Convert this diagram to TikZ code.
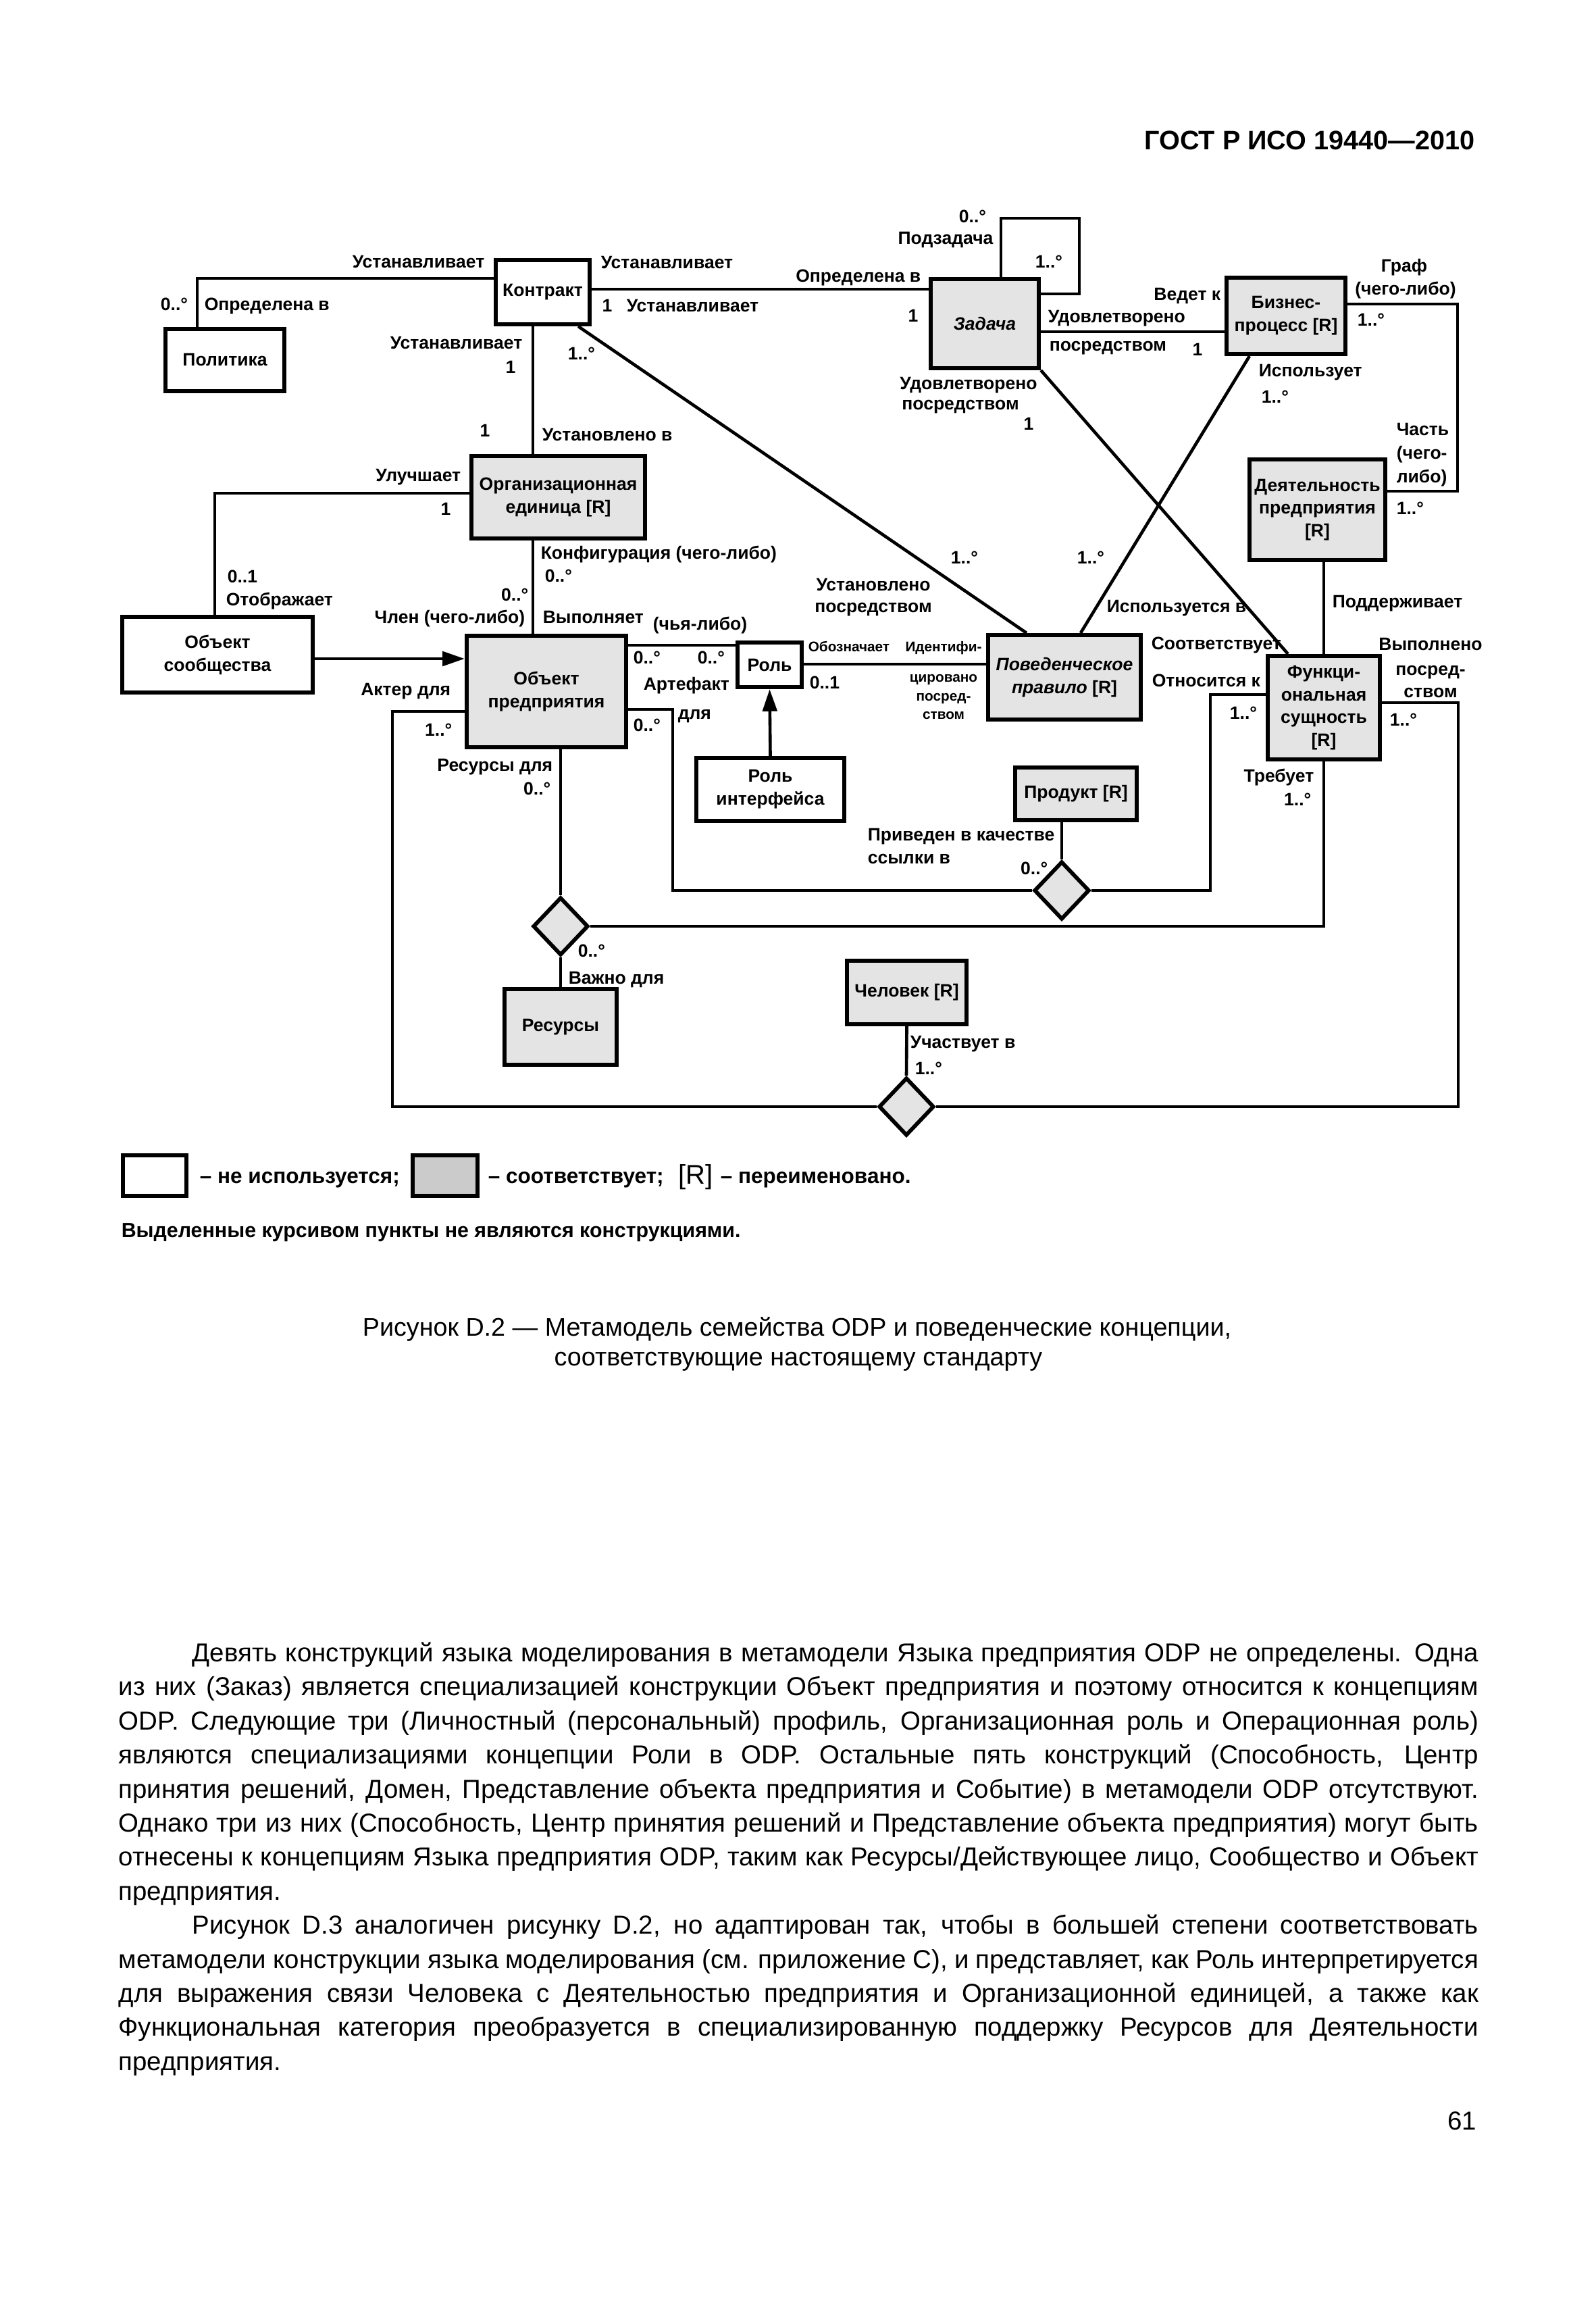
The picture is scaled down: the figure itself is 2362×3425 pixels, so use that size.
\documentclass[tikz,border=0pt]{standalone}
\usepackage{fontspec}
\setmainfont{Liberation Sans}
\usetikzlibrary{shapes.geometric,arrows.meta,calc}
\definecolor{boxgray}{HTML}{E4E4E4}
\definecolor{leggray}{HTML}{CBCBCB}
\newcommand\dlab{\fontsize{6.9}{8.8}\selectfont\bfseries}
\newcommand\dsmall{\fontsize{5.4}{7}\selectfont\bfseries}
\newcommand\legf{\fontsize{8.2}{10}\selectfont\bfseries}
\newcommand\legnote{\fontsize{7.9}{10}\selectfont\bfseries}
\newcommand\bodyf{\fontsize{10}{13}\selectfont}
\newcommand\capf{\fontsize{9.8}{12}\selectfont}
\newcommand\hdrf{\fontsize{10.3}{12}\selectfont\bfseries}
\begin{document}
\begin{tikzpicture}[x=0.0091448cm,y=-0.0091448cm,
  lbl/.style={font=\dlab,inner sep=0pt,text height=4.9pt,text depth=0pt},
  slbl/.style={font=\dsmall,inner sep=0pt,text height=3.8pt,text depth=0pt},
  leg/.style={font=\legf,inner sep=0pt,text height=5.9pt,text depth=0pt,anchor=west},
  box/.style={draw,line width=1.6pt,inner sep=0pt,align=center,font=\dlab},
  wbox/.style={box,fill=white},
  gbox/.style={box,fill=boxgray},
  sz/.style 2 args={minimum width=#1*0.0091448cm,minimum height=#2*0.0091448cm},
  dia/.style={diamond,draw,line width=1.5pt,fill=boxgray,inner sep=0pt,minimum width=82*0.0091448cm,minimum height=86*0.0091448cm},
  conn/.style={line width=1.2pt},
  arr/.style={conn,-{Triangle[length=8.5pt,width=5.5pt]}},
  body/.style={font=\bodyf,inner sep=0pt,anchor=base west},
]
\fill[white] (0,0) rectangle (2362,3425);
\useasboundingbox (0,0) rectangle (2362,3425);

% header
\node[anchor=base east,font=\hdrf,inner sep=0pt] (hdr) at (2184,222) {ГОСТ Р ИСО 19440—2010};

% boxes
\node[wbox,sz={176}{92}] (pol) at (333,533) {Политика};
\node[wbox,sz={139}{95}] (kon) at (803.5,432.5) {Контракт};
\node[gbox,sz={160}{132}] (zad) at (1458,479) {\textit{Задача}};
\node[gbox,sz={176}{113}] (bp) at (1904,467.5) {Бизнес-\\процесс [R]};
\node[gbox,sz={257}{122}] (org) at (826.5,736) {Организационная\\единица [R]};
\node[wbox,sz={282}{112}] (obs) at (322,969) {Объект\\сообщества};
\node[gbox,sz={236}{165}] (oe) at (809,1023.5) {Объект\\предприятия};
\node[wbox,sz={95}{66}] (rol) at (1139.5,984) {Роль};
\node[wbox,sz={219}{93}] (ri) at (1140.5,1168.5) {Роль\\интерфейса};
\node[gbox,sz={226}{125}] (pp) at (1576,1002.5) {\textit{Поведенческое}\\\textit{правило} [R]};
\node[gbox,sz={201}{149}] (da) at (1950.5,754.5) {Деятельность\\предприятия\\{[R]}};
\node[gbox,sz={166}{153}] (fs) at (1960,1047.5) {Функци-\\ональная\\сущность\\{[R]}};
\node[gbox,sz={180}{78}] (prod) at (1593,1175) {Продукт [R]};
\node[gbox,sz={166}{112}] (res) at (830,1520) {Ресурсы};
\node[gbox,sz={177}{94}] (hum) at (1342.5,1469) {Человек [R]};

% diamonds
\node[dia] (dP) at (1572,1318) {};
\node[dia] (dR) at (830,1371) {};
\node[dia] (dH) at (1342,1638) {};

% connectors
\coordinate (cP) at (292,412);
\draw[conn] (pol.north -| cP) |- (kon.west |- cP);
\coordinate (cKZ) at (0,428);
\draw[conn] (kon.east |- cKZ) -- (zad.west |- cKZ);
\coordinate (cKO) at (789,0);
\draw[conn] (kon.south -| cKO) -- (org.north -| cKO);
\draw[conn] (org.south -| cKO) -- (oe.north -| cKO);
\coordinate (cOS) at (318,730);
\draw[conn] (org.west |- cOS) -| (obs.north -| cOS);
\coordinate (cA) at (0,975);
\draw[arr] (obs.east |- cA) -- (oe.west |- cA);
\coordinate (cR) at (0,955);
\draw[conn] (oe.east |- cR) -- (rol.west |- cR);
\coordinate (cRP) at (0,983);
\draw[conn] (rol.east |- cRP) -- (pp.west |- cRP);
\draw[arr] (ri.north) -- (rol.south);
\coordinate (a1) at (996,1050);
\draw[conn] (oe.east |- a1) -- (a1) |- (dP.west);
\draw[conn] (prod.south -| dP.north) -- (dP.north);
\coordinate (b1) at (1792,1028);
\draw[conn] (fs.west |- b1) -- (b1) |- (dP.east);
\draw[conn] (fs.south) |- (dR.east);
\draw[conn] (oe.south -| dR.north) -- (dR.north);
\draw[conn] (dR.south) -- (res.north);
\draw[conn] (hum.south) -- (dH.north);
\coordinate (e1) at (581,1053);
\draw[conn] (oe.west |- e1) -- (e1) |- (dH.west);
\coordinate (f1) at (2159,1040);
\draw[conn] (fs.east |- f1) -- (f1) |- (dH.east);
\coordinate (g1) at (1482,323);
\coordinate (g2) at (1598,435);
\draw[conn] (zad.north -| g1) -- (g1) -| (g2) -- (zad.east |- g2);
\coordinate (h1) at (0,491);
\draw[conn] (zad.east |- h1) -- (bp.west |- h1);
\draw[conn] (zad.south east) -- ($(fs.north west)+(33,0)$);
\draw[conn] ($(bp.south west)+(37,0)$) -- ($(pp.north west)+(140,0)$);
\draw[conn] ($(kon.south east)+(-20,0)$) -- ($(pp.north west)+(60,0)$);
\coordinate (k1) at (2158,450);
\coordinate (k2) at (2158,727);
\draw[conn] (bp.east |- k1) -- (k1) -- (k2) -- (da.east |- k2);
\draw[conn] (da.south -| fs.north) -- (fs.north);

% labels: top-left
\node[lbl,anchor=east] (L1) at (718,387) {Устанавливает};
\node[lbl] (L2) at (258,450) {0..°};
\node[lbl,anchor=west] (L3) at (302,450) {Определена в};
\node[lbl,anchor=east] (L4) at (774,507) {Устанавливает};
\node[lbl] (L5) at (756,543) {1};
\node[lbl] (L6) at (861,523) {1..°};
\node[lbl] (L7) at (718,637) {1};
\node[lbl,anchor=west] (L8) at (802,643) {Установлено в};
\node[lbl,anchor=west] (L9) at (889,388) {Устанавливает};
\node[lbl] (L10) at (899,452) {1};
\node[lbl,anchor=west] (L11) at (927,452) {Устанавливает};
% zadacha
\node[lbl,anchor=east] (L12) at (1364,408) {Определена в};
\node[lbl] (L13) at (1352,467) {1};
\node[lbl] (L14) at (1440,320) {0..°};
\node[lbl] (L15) at (1400,352) {Подзадача};
\node[lbl] (L16) at (1553,387) {1..°};
\node[lbl,anchor=west] (L17) at (1551,468) {Удовлетворено};
\node[lbl,anchor=west] (L18) at (1553,510) {посредством};
\node[lbl] (L19) at (1773,517) {1};
\node[lbl,anchor=east] (L20) at (1808,435) {Ведет к};
\node[lbl] (L21) at (1434,567) {Удовлетворено};
\node[lbl] (L22) at (1422,597) {посредством};
\node[lbl] (L23) at (1523,627) {1};
% business process
\node[lbl] (L24) at (2079,393) {Граф};
\node[lbl] (L25) at (2081,427) {(чего-либо)};
\node[lbl] (L26) at (2030,473) {1..°};
\node[lbl,anchor=west] (L27) at (1863,548) {Использует};
\node[lbl,anchor=west] (L28) at (1867,587) {1..°};
\node[lbl,anchor=west] (L29) at (2067,635) {Часть};
\node[lbl,anchor=west] (L30) at (2067,670) {(чего-};
\node[lbl,anchor=west] (L31) at (2067,705) {либо)};
\node[lbl,anchor=west] (L32) at (2067,752) {1..°};
% org unit
\node[lbl,anchor=east] (L33) at (683,703) {Улучшает};
\node[lbl] (L34) at (660,753) {1};
\node[lbl,anchor=west] (L35) at (336,853) {0..1};
\node[lbl,anchor=west] (L36) at (334,887) {Отображает};
\node[lbl,anchor=west] (L37) at (800,818) {Конфигурация (чего-либо)};
\node[lbl,anchor=west] (L38) at (806,852) {0..°};
\node[lbl,anchor=east] (L39) at (783,880) {0..°};
\node[lbl,anchor=east] (L40) at (778,913) {Член (чего-либо)};
\node[lbl,anchor=west] (L41) at (803,913) {Выполняет};
\node[lbl,anchor=east] (L42) at (668,1020) {Актер для};
\node[lbl,anchor=east] (L43) at (670,1080) {1..°};
% role
\node[lbl,anchor=west] (L44) at (966,923) {(чья-либо)};
\node[lbl,anchor=west] (L45) at (937,973) {0..°};
\node[lbl,anchor=west] (L46) at (1032,973) {0..°};
\node[lbl,anchor=west] (L47) at (952,1012) {Артефакт};
\node[lbl,anchor=west] (L48) at (1003,1055) {для};
\node[lbl,anchor=west] (L49) at (937,1073) {0..°};
\node[slbl,anchor=west] (L50) at (1196,957) {Обозначает};
\node[slbl] (L51) at (1397,957) {Идентифи-};
\node[slbl] (L52) at (1397,1002) {цировано};
\node[slbl] (L53) at (1397,1030) {посред-};
\node[slbl] (L54) at (1397,1057) {ством};
\node[lbl,anchor=west] (L55) at (1198,1010) {0..1};
\node[lbl] (L56) at (1293,865) {Установлено};
\node[lbl] (L57) at (1293,897) {посредством};
\node[lbl] (L58) at (1428,825) {1..°};
\node[lbl] (L59) at (1615,825) {1..°};
% functional entity
\node[lbl,anchor=west] (L60) at (1972,890) {Поддерживает};
\node[lbl,anchor=west] (L61) at (1638,897) {Используется в};
\node[lbl,anchor=west] (L62) at (1704,952) {Соответствует};
\node[lbl,anchor=west] (L63) at (1705,1007) {Относится к};
\node[lbl] (L64) at (1841,1055) {1..°};
\node[lbl] (L65) at (2118,953) {Выполнено};
\node[lbl] (L66) at (2118,990) {посред-};
\node[lbl] (L67) at (2118,1023) {ством};
\node[lbl] (L68) at (2078,1065) {1..°};
\node[lbl,anchor=east] (L69) at (1946,1148) {Требует};
\node[lbl,anchor=east] (L70) at (1942,1183) {1..°};
% bottom
\node[lbl,anchor=east] (L71) at (819,1132) {Ресурсы для};
\node[lbl,anchor=east] (L72) at (816,1167) {0..°};
\node[lbl,anchor=west] (L73) at (855,1407) {0..°};
\node[lbl,anchor=west] (L74) at (841,1447) {Важно для};
\node[lbl,anchor=west] (L75) at (1284,1235) {Приведен в качестве};
\node[lbl,anchor=west] (L76) at (1284,1269) {ссылки в};
\node[lbl,anchor=east] (L77) at (1552,1285) {0..°};
\node[lbl,anchor=west] (L78) at (1347,1542) {Участвует в};
\node[lbl,anchor=west] (L79) at (1354,1581) {1..°};

% legend
\node[wbox,sz={94}{60}] (lw) at (229,1740) {};
\node[leg] (lt1) at (295,1740) {– не используется;};
\node[box,fill=leggray,sz={96}{60}] (lg) at (659,1740) {};
\node[leg] (lt2) at (722,1740) {– соответствует;};
\node[inner sep=0pt,anchor=west,font=\fontsize{10.4}{12}\selectfont,text height=7.4pt,text depth=0pt] (lt3) at (1004,1738) {[R]};
\node[leg] (lt4) at (1066,1740) {– переименовано.};
\node[leg,font=\legnote] (lt5) at (179,1820) {Выделенные курсивом пункты не являются конструкциями.};

% caption
\node[anchor=base,font=\capf,inner sep=0pt] (cap1) at (1180,1977) {Рисунок D.2 — Метамодель семейства ODP и поведенческие концепции,};
\node[anchor=base,font=\capf,inner sep=0pt] (cap2) at (1182,2021) {соответствующие настоящему стандарту};

% body text
\node[body] (t1) at (284,2459) {\makebox[17.4026cm][s]{Девять конструкций языка моделирования в метамодели Языка предприятия ODP не определены. Одна}};
\node[body] (t2) at (175,2509) {\makebox[18.3993cm][s]{из них (Заказ) является специализацией конструкции Объект предприятия и поэтому относится к концепциям}};
\node[body] (t3) at (175,2560) {\makebox[18.3993cm][s]{ODP. Следующие три (Личностный (персональный) профиль, Организационная роль и Операционная роль)}};
\node[body] (t4) at (175,2610) {\makebox[18.3993cm][s]{являются специализациями концепции Роли в ODP. Остальные пять конструкций (Способность, Центр}};
\node[body] (t5) at (175,2661) {\makebox[18.3993cm][s]{принятия решений, Домен, Представление объекта предприятия и Событие) в метамодели ODP отсутствуют.}};
\node[body] (t6) at (175,2711) {\makebox[18.3993cm][s]{Однако три из них (Способность, Центр принятия решений и Представление объекта предприятия) могут быть}};
\node[body] (t7) at (175,2761) {\makebox[18.3993cm][s]{отнесены к концепциям Языка предприятия ODP, таким как Ресурсы/Действующее лицо, Сообщество и Объект}};
\node[body] (t8) at (175,2812) {предприятия.};
\node[body] (t9) at (284,2862) {\makebox[17.4026cm][s]{Рисунок D.3 аналогичен рисунку D.2, но адаптирован так, чтобы в большей степени соответствовать}};
\node[body] (t10) at (175,2913) {\makebox[18.3993cm][s]{метамодели конструкции языка моделирования (см. приложение С), и представляет, как Роль интерпретируется}};
\node[body] (t11) at (175,2963) {\makebox[18.3993cm][s]{для выражения связи Человека с Деятельностью предприятия и Организационной единицей, а также как}};
\node[body] (t12) at (175,3013) {\makebox[18.3993cm][s]{Функциональная категория преобразуется в специализированную поддержку Ресурсов для Деятельности}};
\node[body] (t13) at (175,3064) {предприятия.};

% page number
\node[anchor=base east,font=\bodyf,inner sep=0pt] (pg) at (2187,3152) {61};
\end{tikzpicture}
\end{document}
